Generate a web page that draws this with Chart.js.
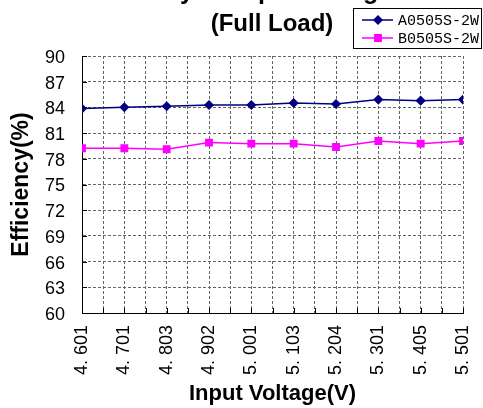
<!DOCTYPE html>
<html>
<head>
<meta charset="utf-8">
<script src="https://cdn.jsdelivr.net/npm/chart.js@4"></script>
<style>
  html, body { margin: 0; padding: 0; background: #ffffff; }
  #wrap { width: 483px; height: 408px; }
</style>
</head>
<body>
<div id="wrap"><canvas id="chart"></canvas></div>
<script>
// Données
const voltageLabels = ['4. 601', '4. 701', '4. 803', '4. 902', '5. 001', '5. 103', '5. 204', '5. 301', '5. 405', '5. 501'];
const seriesNames = ['A0505S-2W', 'B0505S-2W'];
const effA = [83.86, 84.01, 84.13, 84.28, 84.28, 84.51, 84.40, 84.91, 84.79, 84.91];
const effB = [79.23, 79.23, 79.11, 79.89, 79.77, 79.77, 79.38, 80.08, 79.77, 80.08];
const yTicksMin = 60;
const yTicksMax = 90;
const yTicksStep = 3;

const SANS = "'Liberation Sans', Arial, sans-serif";
const MONO = "'Liberation Mono', 'DejaVu Sans Mono', monospace";

function toPoints(values) {
    return values.map((v, i) => ({ x: i, y: v }));
}

// Titre et légende dessinés à la main (le titre déborde en haut)
const decorPlugin = {
    id: 'decor',
    afterDraw(chart) {
        const ctx = chart.ctx;
        const area = chart.chartArea;
        ctx.save();

        // petites graduations vers l'intérieur
        ctx.strokeStyle = '#000000';
        ctx.lineWidth = 1;
        ctx.setLineDash([]);
        ctx.beginPath();
        chart.scales.y.ticks.forEach(t => {
            const py = Math.round(chart.scales.y.getPixelForValue(t.value)) + 0.5;
            ctx.moveTo(area.left, py);
            ctx.lineTo(area.left + 5, py);
        });
        chart.scales.x.ticks.forEach(t => {
            const px = Math.round(chart.scales.x.getPixelForValue(t.value)) + 0.5;
            ctx.moveTo(px, area.bottom);
            ctx.lineTo(px, area.bottom - 5);
        });
        ctx.stroke();

        // titre
        ctx.fillStyle = '#000000';
        ctx.textAlign = 'center';
        ctx.textBaseline = 'alphabetic';
        ctx.font = 'bold 25px ' + SANS;
        ctx.fillText('Efficiency vs Input Voltage', 234, -1);
        ctx.font = 'bold 24px ' + SANS;
        ctx.fillText('(Full Load)', 272, 31);

        // légende
        const box = { left: 353.5, top: 8.5, width: 128, height: 40 };
        ctx.strokeStyle = '#000000';
        ctx.lineWidth = 1;
        ctx.strokeRect(box.left, box.top, box.width, box.height);

        const rows = [20, 38];
        chart.data.datasets.forEach((ds, i) => {
            const y = rows[i];
            ctx.strokeStyle = ds.borderColor;
            ctx.lineWidth = 1.5;
            ctx.beginPath();
            ctx.moveTo(362, y);
            ctx.lineTo(393, y);
            ctx.stroke();
            Chart.helpers.drawPoint(ctx, {
                pointStyle: ds.pointStyle,
                radius: ds.pointRadius,
                borderWidth: 1
            }, 378, y);
            ctx.fillStyle = ds.pointBackgroundColor;
            ctx.fill();
            ctx.fillStyle = '#000000';
            ctx.textAlign = 'left';
            ctx.textBaseline = 'middle';
            ctx.font = '15px ' + MONO;
            ctx.fillText(ds.label, 398, y + 1);
        });

        ctx.restore();
    }
};

const ctx = document.getElementById('chart');

new Chart(ctx, {
    type: 'line',
    data: {
        datasets: [
            {
                label: seriesNames[0],
                data: toPoints(effA),
                borderColor: '#000080',
                backgroundColor: '#000080',
                pointBackgroundColor: '#000080',
                pointBorderColor: '#000080',
                pointStyle: 'rectRot',
                pointRadius: 4,
                borderWidth: 1.5,
                tension: 0
            },
            {
                label: seriesNames[1],
                data: toPoints(effB),
                borderColor: '#FF00FF',
                backgroundColor: '#FF00FF',
                pointBackgroundColor: '#FF00FF',
                pointBorderColor: '#FF00FF',
                pointStyle: 'rect',
                pointRadius: 4.5,
                borderWidth: 1.5,
                tension: 0
            }
        ]
    },
    options: {
        responsive: true,
        maintainAspectRatio: false,
        animation: false,
        layout: {
            padding: { top: 56, right: 20, bottom: 0, left: 0 }
        },
        scales: {
            x: {
                type: 'linear',
                min: 0,
                max: voltageLabels.length - 1,
                afterFit(scale) {
                    scale.height = 95;
                    // pas de marge auto pour la dernière étiquette
                    scale.paddingLeft = 0;
                    scale.paddingRight = 0;
                },
                grid: {
                    drawTicks: false,
                    color: '#666666',
                    lineWidth: 1
                },
                // en v4 border.dash s'applique aux lignes de grille
                border: { display: true, color: '#000000', width: 1, dash: [3, 2] },
                ticks: {
                    stepSize: 0.5,
                    autoSkip: false,
                    maxRotation: 90,
                    minRotation: 90,
                    padding: 12,
                    color: '#000000',
                    font: { size: 18, family: SANS },
                    callback: function(value) {
                        return Number.isInteger(value) ? voltageLabels[value] : '';
                    }
                },
                title: {
                    display: true,
                    text: 'Input Voltage(V)',
                    color: '#000000',
                    font: { size: 22, weight: 'bold', family: SANS },
                    padding: { top: 0, bottom: 1 }
                }
            },
            y: {
                min: yTicksMin,
                max: yTicksMax,
                afterFit(scale) {
                    scale.width = 82;
                    scale.paddingTop = 0;
                    scale.paddingBottom = 0;
                },
                grid: {
                    drawTicks: false,
                    color: '#666666',
                    lineWidth: 1
                },
                border: { display: true, color: '#000000', width: 1, dash: [3, 2] },
                ticks: {
                    stepSize: yTicksStep,
                    padding: 17,
                    labelOffset: 2,
                    color: '#000000',
                    font: { size: 18, family: SANS }
                },
                title: {
                    display: true,
                    text: 'Efficiency(%)',
                    color: '#000000',
                    font: { size: 23, weight: 'bold', family: SANS },
                    padding: { top: 8, bottom: 0 }
                }
            }
        },
        plugins: {
            legend: { display: false },
            title: { display: false },
            tooltip: { enabled: false }
        }
    },
    plugins: [decorPlugin]
});
</script>
</body>
</html>
